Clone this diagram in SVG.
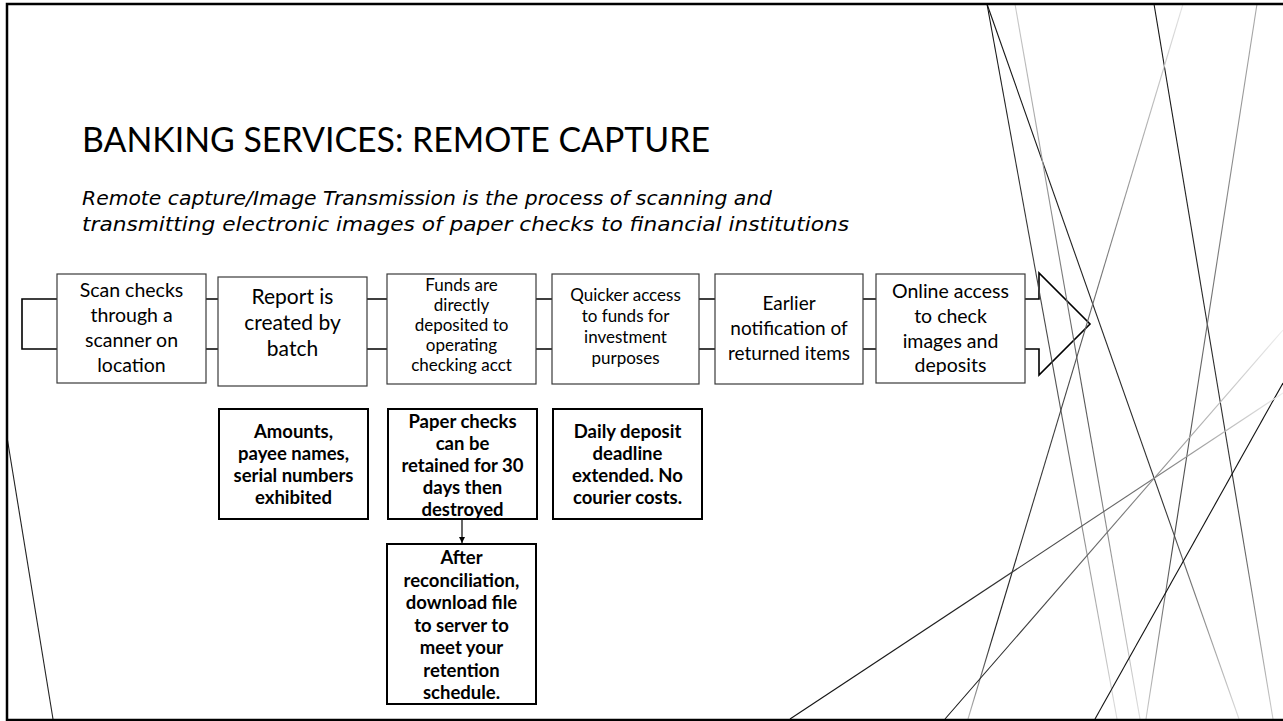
<svg xmlns="http://www.w3.org/2000/svg" width="1283" height="721" viewBox="0 0 1283 721">
<style>
.t{font-family:Lato,"Liberation Sans",sans-serif;fill:#000;text-anchor:middle}
.b{font-weight:bold}
.box{fill:#fff;stroke:#3a3a3a;stroke-width:1.2}
.sbox{fill:#fff;stroke:#000;stroke-width:2}
.deco{fill:none;stroke-width:1.1}
</style>
<defs>
<linearGradient id="g1" gradientUnits="userSpaceOnUse" x1="987" y1="4" x2="1117" y2="719"><stop offset="0" stop-color="#111"/><stop offset="0.55" stop-color="#555"/><stop offset="1" stop-color="#ddd"/></linearGradient>
<linearGradient id="g2" gradientUnits="userSpaceOnUse" x1="987" y1="4" x2="1239" y2="719"><stop offset="0" stop-color="#111"/><stop offset="0.7" stop-color="#333"/><stop offset="1" stop-color="#ddd"/></linearGradient>
<linearGradient id="g3" gradientUnits="userSpaceOnUse" x1="1015" y1="4" x2="1140" y2="719"><stop offset="0" stop-color="#ccc"/><stop offset="0.55" stop-color="#555"/><stop offset="1" stop-color="#ddd"/></linearGradient>
<linearGradient id="g4" gradientUnits="userSpaceOnUse" x1="1154" y1="4" x2="1273" y2="719"><stop offset="0" stop-color="#111"/><stop offset="0.65" stop-color="#333"/><stop offset="1" stop-color="#ccc"/></linearGradient>
<linearGradient id="g5" gradientUnits="userSpaceOnUse" x1="1183" y1="4" x2="968" y2="719"><stop offset="0" stop-color="#e4e4e4"/><stop offset="0.55" stop-color="#444"/><stop offset="0.88" stop-color="#222"/><stop offset="1" stop-color="#bbb"/></linearGradient>
<linearGradient id="g6" gradientUnits="userSpaceOnUse" x1="1257" y1="4" x2="1146" y2="719"><stop offset="0" stop-color="#aaa"/><stop offset="0.75" stop-color="#444"/><stop offset="1" stop-color="#ccc"/></linearGradient>
<linearGradient id="g8" gradientUnits="userSpaceOnUse" x1="790" y1="719" x2="1283" y2="393"><stop offset="0" stop-color="#111"/><stop offset="0.35" stop-color="#222"/><stop offset="0.74" stop-color="#777"/><stop offset="1" stop-color="#eee"/></linearGradient>
<linearGradient id="g9" gradientUnits="userSpaceOnUse" x1="945" y1="719" x2="1283" y2="330"><stop offset="0" stop-color="#111"/><stop offset="0.2" stop-color="#333"/><stop offset="0.6" stop-color="#888"/><stop offset="1" stop-color="#eee"/></linearGradient>
<marker id="ah" markerWidth="6" markerHeight="6" refX="6" refY="3" orient="auto" markerUnits="userSpaceOnUse"><path d="M0,0 L6,3 L0,6 Z" fill="#000"/></marker>
</defs>
<rect x="0" y="0" width="1283" height="721" fill="#fff"/>
<g id="process-arrow">
<path d="M22,299 H1039 V273 L1090,324 L1039,375 V349 H22 Z" fill="none" stroke="#000" stroke-width="1.6" stroke-linejoin="miter"/>
</g>
<g id="decor">
<line class="deco" x1="987" y1="4" x2="1117" y2="719" stroke="url(#g1)"/>
<line class="deco" x1="987" y1="4" x2="1239" y2="719" stroke="url(#g2)"/>
<line class="deco" x1="1015" y1="4" x2="1140" y2="719" stroke="url(#g3)"/>
<line class="deco" x1="1154" y1="4" x2="1273" y2="719" stroke="url(#g4)"/>
<line class="deco" x1="1183" y1="4" x2="968" y2="719" stroke="url(#g5)"/>
<line class="deco" x1="1257" y1="4" x2="1146" y2="719" stroke="url(#g6)"/>
<line class="deco" x1="1095" y1="719" x2="1283" y2="383" stroke="#111"/>
<line class="deco" x1="790" y1="719" x2="1283" y2="393" stroke="url(#g8)"/>
<line class="deco" x1="945" y1="719" x2="1283" y2="330" stroke="url(#g9)"/>
<line class="deco" x1="7" y1="437" x2="53" y2="719" stroke="#222"/>
</g>
<path d="M1283,4 H7 V720 H1283" fill="none" stroke="#000" stroke-width="2.5"/>
<g id="title">
<text x="82" y="152" font-family="Lato,'Liberation Sans',sans-serif" font-size="34" textLength="628" lengthAdjust="spacingAndGlyphs">BANKING SERVICES: REMOTE CAPTURE</text>
<text font-family="'DejaVu Sans',Verdana,sans-serif" font-style="italic" font-size="19">
<tspan x="82" y="205" textLength="690" lengthAdjust="spacingAndGlyphs">Remote capture/Image Transmission is the process of scanning and</tspan>
<tspan x="82" y="231" textLength="767" lengthAdjust="spacingAndGlyphs">transmitting electronic images of paper checks to financial institutions</tspan>
</text>
</g>
<g id="node1">
<rect class="box" x="57" y="274" width="149" height="109"/>
<text class="t" font-size="19.5"><tspan x="131.5" y="297">Scan checks</tspan><tspan x="131.5" y="322">through a</tspan><tspan x="131.5" y="347">scanner on</tspan><tspan x="131.5" y="372">location</tspan></text>
</g>
<g id="node2">
<rect class="box" x="218" y="277" width="149" height="109"/>
<text class="t" font-size="21"><tspan x="292.5" y="304">Report is</tspan><tspan x="292.5" y="330">created by</tspan><tspan x="292.5" y="356">batch</tspan></text>
</g>
<g id="node3">
<rect class="box" x="387" y="274" width="149" height="110"/>
<text class="t" font-size="17"><tspan x="461.5" y="291">Funds are</tspan><tspan x="461.5" y="311">directly</tspan><tspan x="461.5" y="331">deposited to</tspan><tspan x="461.5" y="351">operating</tspan><tspan x="461.5" y="371">checking acct</tspan></text>
</g>
<g id="node4">
<rect class="box" x="552" y="274" width="147" height="110"/>
<text class="t" font-size="17"><tspan x="625.5" y="301">Quicker access</tspan><tspan x="625.5" y="322">to funds for</tspan><tspan x="625.5" y="343">investment</tspan><tspan x="625.5" y="364">purposes</tspan></text>
</g>
<g id="node5">
<rect class="box" x="715" y="274" width="148" height="110"/>
<text class="t" font-size="19"><tspan x="789" y="310">Earlier</tspan><tspan x="789" y="335">notification of</tspan><tspan x="789" y="360">returned items</tspan></text>
</g>
<g id="node6">
<rect class="box" x="876" y="274" width="149" height="109"/>
<text class="t" font-size="19.5"><tspan x="950.5" y="298">Online access</tspan><tspan x="950.5" y="323">to check</tspan><tspan x="950.5" y="348">images and</tspan><tspan x="950.5" y="372">deposits</tspan></text>
</g>
<g id="node7">
<rect class="sbox" x="219" y="409" width="149" height="110"/>
<text class="t b" font-size="18.5"><tspan x="293.5" y="438">Amounts,</tspan><tspan x="293.5" y="460">payee names,</tspan><tspan x="293.5" y="482">serial numbers</tspan><tspan x="293.5" y="504">exhibited</tspan></text>
</g>
<g id="node8">
<rect class="sbox" x="388" y="409" width="149" height="110"/>
<text class="t b" font-size="18.5"><tspan x="462.5" y="428">Paper checks</tspan><tspan x="462.5" y="450">can be</tspan><tspan x="462.5" y="472">retained for 30</tspan><tspan x="462.5" y="494">days then</tspan><tspan x="462.5" y="516">destroyed</tspan></text>
</g>
<g id="node9">
<rect class="sbox" x="553" y="409" width="149" height="110"/>
<text class="t b" font-size="18.5"><tspan x="627.5" y="438">Daily deposit</tspan><tspan x="627.5" y="460">deadline</tspan><tspan x="627.5" y="482">extended. No</tspan><tspan x="627.5" y="504">courier costs.</tspan></text>
</g>
<g id="node10">
<rect class="sbox" x="387" y="544" width="149" height="160"/>
<text class="t b" font-size="18.5"><tspan x="461.5" y="564">After</tspan><tspan x="461.5" y="587">reconciliation,</tspan><tspan x="461.5" y="609">download file</tspan><tspan x="461.5" y="632">to server to</tspan><tspan x="461.5" y="654">meet your</tspan><tspan x="461.5" y="677">retention</tspan><tspan x="461.5" y="699">schedule.</tspan></text>
</g>
<g id="connectors">
<line x1="462" y1="519" x2="462" y2="543" stroke="#000" stroke-width="1.2" marker-end="url(#ah)"/>
</g>
</svg>
